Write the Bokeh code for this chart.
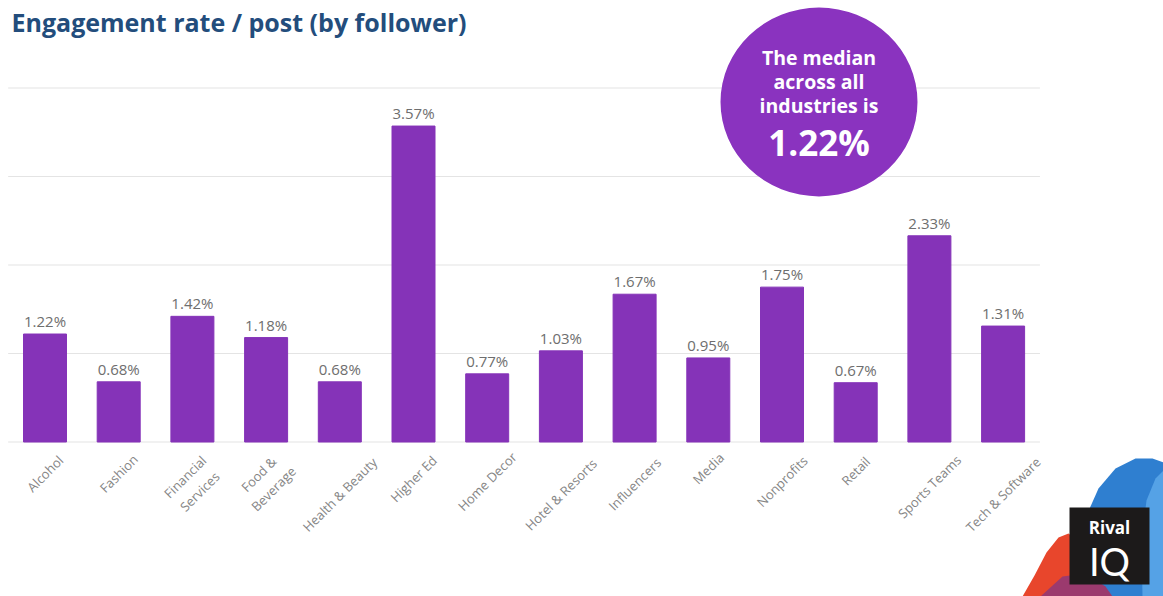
import numpy as np
from bokeh.plotting import figure
from bokeh.models import Range1d, ColumnDataSource
from bokeh.core.properties import value
from bokeh.embed import file_html
from bokeh.resources import INLINE

# ---- data -------------------------------------------------------------
industries = [
    "Alcohol", "Fashion", "Financial\nServices", "Food &\nBeverage",
    "Health & Beauty", "Higher Ed", "Home Decor", "Hotel & Resorts",
    "Influencers", "Media", "Nonprofits", "Retail", "Sports Teams",
    "Tech & Software",
]
engagement = [1.22, 0.68, 1.42, 1.18, 0.68, 3.57, 0.77, 1.03, 1.67, 0.95,
              1.75, 0.67, 2.33, 1.31]
grid_values = [0, 1, 2, 3, 4]
median_all = 1.22

# ---- page geometry (pixels) -> data units -----------------------------
W, H = 1163, 596
X0_PX, STEP_PX = 44.5, 73.7        # first bar centre, bar spacing
BASE_PX, UNIT_PX = 441.5, 88.5     # zero line, pixels per 1 %


def X(px):
    return (px - X0_PX) / STEP_PX


def Y(py):
    return (BASE_PX - py) / UNIT_PX


p = figure(width=W, height=H, x_range=Range1d(X(0), X(W)),
           y_range=Range1d(Y(H), Y(0)), x_axis_type=None, y_axis_type=None,
           toolbar_location=None, output_backend="svg", min_border=0)
p.outline_line_color = None
p.background_fill_color = "white"
p.border_fill_color = "white"

n = len(industries)
xs = np.arange(n)
PURPLE = "#8533b8"

# horizontal guide lines
p.segment(x0=[-0.5] * len(grid_values), x1=[n - 0.5] * len(grid_values),
          y0=grid_values, y1=grid_values, line_color="#e4e4e4", line_width=1.2)

# rotated category labels: each rotated box hangs from just under the
# zero line and is centred on its bar
CHAR_PX, LINE_PX = 7.4, 15.0
label_y = []
for cat in industries:
    lines = cat.split("\n")
    span = max(len(s) for s in lines) * CHAR_PX + len(lines) * LINE_PX
    label_y.append(Y(BASE_PX + 8 + span / (2 * np.sqrt(2))))

src = ColumnDataSource(dict(
    x=xs, top=engagement,
    lbl=[f"{v:.2f}%" for v in engagement],
    cat=industries, cat_y=label_y,
))

# bars
p.vbar(x="x", top="top", bottom=0, width=43 / STEP_PX, source=src,
       fill_color=PURPLE, line_color=PURPLE)

# value labels above bars
p.text(x="x", y="top", text="lbl", source=src, y_offset=-3,
       text_align="center", text_baseline="bottom",
       text_font=value("Open Sans"), text_font_size="15px",
       text_color="#6e6e6e")

p.text(x="x", y="cat_y", text="cat", source=src,
       angle=np.pi / 4, text_align="center", text_baseline="middle",
       text_font=value("Open Sans"), text_font_size="13px",
       text_color="#858585", text_line_height=1.15)

# title
p.text(x=[X(11)], y=[Y(21)], text=["Engagement rate / post (by follower)"],
       text_align="left", text_baseline="middle",
       text_font=value("Open Sans"), text_font_style="bold",
       text_font_size="25px", text_color="#234d7c")

# median callout bubble
cx, cy = X(818.5), Y(101.5)
p.ellipse(x=[cx], y=[cy], width=197, height=189, width_units="screen",
          height_units="screen", fill_color="#8a33bf", line_color=None)
p.text(x=[cx] * 3, y=[Y(57), Y(81), Y(105)],
       text=["The median", "across all", "industries is"],
       text_align="center", text_baseline="middle",
       text_font=value("Open Sans"), text_font_style="bold",
       text_font_size="19.5px", text_color="white")
p.text(x=[cx], y=[Y(142)], text=[f"{median_all:.2f}%"],
       text_align="center", text_baseline="middle",
       text_font=value("Open Sans"), text_font_style="bold",
       text_font_size="35px", text_color="white")

# brand mark in the lower right corner
def shape(pts):
    return [X(a) for a, _ in pts], [Y(b) for _, b in pts]

blue_dark = [(1083, 596), (1081, 550), (1086, 515), (1098, 488), (1115, 468),
             (1135, 458), (1152, 458), (1163, 462), (1163, 596)]
blue_light = [(1142, 596), (1141, 540), (1146, 500), (1155, 478),
              (1163, 470), (1163, 596)]
red = [(1022, 596), (1034, 575), (1046, 552), (1058, 537), (1068, 533),
       (1080, 543), (1088, 570), (1092, 596)]
plum = [(1040, 596), (1062, 576), (1085, 573), (1105, 586), (1112, 596)]
for pts, col in [(blue_dark, "#2f7fd0"), (blue_light, "#55a2e6"),
                 (red, "#e8462c"), (plum, "#9b3a6e")]:
    sx, sy = shape(pts)
    p.patch(sx, sy, fill_color=col, line_color=None)

p.quad(left=[X(1069)], right=[X(1149)], top=[Y(507)], bottom=[Y(584)],
       fill_color="#1c1a1a", line_color=None)
p.text(x=[X(1109)], y=[Y(527)], text=["Rival"], text_align="center",
       text_baseline="middle", text_font=value("Open Sans"),
       text_font_style="bold", text_font_size="17px", text_color="white")
p.text(x=[X(1109)], y=[Y(560)], text=["IQ"], text_align="center",
       text_baseline="middle", text_font=value("Lato"),
       text_font_size="38px", text_color="white")

open("out.html", "w").write(file_html(p, INLINE))
